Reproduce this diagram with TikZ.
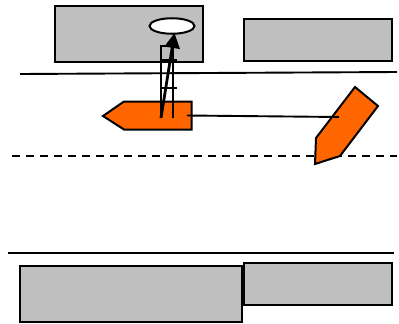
\documentclass[tikz,border=0pt]{standalone}
\usetikzlibrary{arrows.meta,shapes.geometric}
\definecolor{vesselorange}{HTML}{FF6600}
\tikzset{
  block/.style={draw=black,fill=black!25,line width=2pt},
  vessel/.style={draw=black,fill=vesselorange,line width=2pt,line join=miter},
  rule/.style={draw=black,line width=1.9pt},
  thin rail/.style={draw=black,line width=1.7pt},
  heading/.style={draw=black,line width=2.8pt,-{Triangle[length=15pt,width=15pt]}},
}
\begin{document}
\begin{tikzpicture}[x=1pt,y=-1pt]
\useasboundingbox (0,0) rectangle (399,324);
\fill[white] (0,0) rectangle (399,324);
% buildings
\draw[block] (55,6) rectangle (203,62);
\draw[block] (244,19) rectangle (392,61);
\draw[block] (20,266) rectangle (242,322);
\draw[block] (244,263) rectangle (392,305);
% road lines
\draw[rule] (20,74) -- (397,72);
\draw[rule,dash pattern=on 8pt off 6pt] (12,156) -- (397,156);
\draw[rule] (8,253) -- (394,253);
% target ellipse
\node[draw=black,fill=white,line width=2pt,ellipse,minimum width=45pt,minimum height=15.5pt,inner sep=0pt] (target) at (172,26) {};
% vessels
\draw[vessel] (103,116) -- (124,101.5) -- (191.5,101.5) -- (191.5,129.5) -- (124,129.5) -- cycle;
\draw[vessel] (355,87) -- (378,106) -- (340,156) -- (315,164) -- (316,138) -- cycle;
% beam frame
\coordinate (railA) at (161,118);
\coordinate (railB) at (173,118);
\coordinate (railAtop) at (161,46);
\coordinate (railBtop) at (173,46);
\coordinate (rungA) at (177,60);
\coordinate (rungB) at (177,88);
\coordinate (rungAl) at (161,60);
\coordinate (rungBl) at (161,88);
\coordinate (tip) at (174.5,33);
\coordinate (linkA) at (187,115.5);
\coordinate (linkB) at (339,117);
\draw[thin rail] (railA) -- (railAtop) -- (railBtop) -- (railB);
\draw[thin rail] (rungAl) -- (rungA);
\draw[thin rail] (rungBl) -- (rungB);
\draw[heading] (railA) -- (tip);
\draw[rule] (linkA) -- (linkB);
\end{tikzpicture}
\end{document}
